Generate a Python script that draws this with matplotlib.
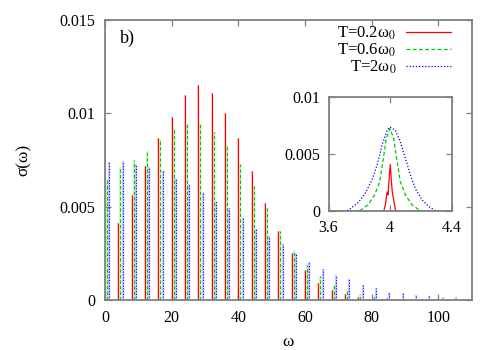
import matplotlib
matplotlib.use("Agg")
import matplotlib.pyplot as plt

plt.rcParams['font.family'] = ['Liberation Serif', 'DejaVu Serif']
plt.rcParams['mathtext.fontset'] = 'stix'
plt.rcParams['font.size'] = 11.5

# main panel: spike positions and heights
red_w = [4, 8, 12, 16, 20, 24, 28, 32, 36, 40, 44, 48, 52, 56, 60, 64, 68, 72, 76]
red_s = [0.0041, 0.0056, 0.0072, 0.0087, 0.0098, 0.0110, 0.0115, 0.0111, 0.0100,
         0.0087, 0.0069, 0.0052, 0.0037, 0.0025, 0.0016, 0.0009, 0.00054, 0.00032,
         0.00018]

green_w = [0.65, 4.65, 8.65, 12.65, 16.65, 20.65, 24.65, 28.65, 32.65, 36.65, 40.65,
           44.65, 48.65, 52.65, 56.65, 60.65, 64.65, 68.65, 72.65, 76.65, 80.65, 84.65]
green_s = [0.0064, 0.0071, 0.0075, 0.0080, 0.0086, 0.0092, 0.0094, 0.0094, 0.0090,
           0.0083, 0.0073, 0.0061, 0.0049, 0.0037, 0.0027, 0.00187, 0.00128, 0.0008,
           0.00054, 0.0003, 0.00018, 0.0001]

blue_w = [1.3, 5.3, 9.3, 13.3, 17.3, 21.3, 25.3, 29.3, 33.3, 37.3, 41.3, 45.3, 49.3,
          53.3, 57.3, 61.3, 65.3, 69.3, 73.3, 77.3, 81.3, 85.3, 89.3, 93.3, 97.3,
          101.3, 105.3]
blue_s = [0.0074, 0.00745, 0.0073, 0.0071, 0.0069, 0.00655, 0.0062, 0.0058, 0.0053,
          0.0049, 0.0044, 0.0038, 0.0034, 0.0030, 0.0025, 0.00205, 0.00164, 0.00134,
          0.0011, 0.0008, 0.00063, 0.00045, 0.00036, 0.00027, 0.00021, 0.00018,
          0.00014]

# inset: line shapes around omega = 4
in_red_w = [3.6, 3.959, 3.970, 3.981, 3.987, 3.996, 4.002, 4.009, 4.015, 4.024,
            4.035, 4.046, 4.4]
in_red_s = [0, 0, 0.0006, 0.0017, 0.00145, 0.0032, 0.0041, 0.0026, 0.0017, 0.0010,
            0.00015, 0, 0]

in_green_w = [3.6, 3.78, 3.813, 3.857, 3.9, 3.933, 3.954, 3.976, 4.0, 4.024, 4.046,
              4.067, 4.1, 4.143, 4.187, 4.22, 4.4]
in_green_s = [0, 0, 0.00015, 0.00058, 0.00145, 0.0026, 0.0044, 0.0064, 0.00725,
              0.0064, 0.0044, 0.0026, 0.00145, 0.00058, 0.00015, 0, 0]

in_blue_w = [3.6, 3.709, 3.741, 3.796, 3.839, 3.883, 3.916, 3.948, 3.981, 4.0, 4.035,
             4.067, 4.1, 4.133, 4.165, 4.209, 4.252, 4.296, 4.4]
in_blue_s = [0, 0, 0.00023, 0.00081, 0.0016, 0.00276, 0.00406, 0.0058, 0.0071,
             0.0074, 0.0071, 0.0061, 0.00464, 0.0032, 0.0020, 0.0010, 0.00043,
             0.00006, 0]

labels = ['T=0.2ω$_0$', 'T=0.6ω$_0$', 'T=2ω$_0$']
colors = ['#ff0000', '#00c800', '#0000ff']
styles = ['-', (0, (3, 2)), (0, (1, 1.5))]

spine_col = '#808080'

fig = plt.figure(figsize=(5, 3.5), dpi=100)
ax = fig.add_axes([0.21, 0.143, 0.733, 0.8])

series = [(red_w, red_s), (green_w, green_s), (blue_w, blue_s)]
for (w, s), c, ls in zip(series, colors, styles):
    ax.vlines(w, 0, s, colors=c, linewidth=1.6, alpha=0.2)
    ax.vlines(w, 0, s, colors=c, linewidth=0.8, linestyles=[ls])

ax.set_xlim(0, 110)
ax.set_ylim(0, 0.015)
ax.set_xticks([0, 20, 40, 60, 80, 100])
ax.set_yticks([0, 0.005, 0.01, 0.015])
ax.set_yticklabels(['0', '0.005', '0.01', '0.015'])
ax.tick_params(direction='in', length=4.5, width=0.9, color=spine_col,
               top=True, right=True, pad=7)
for sp in ax.spines.values():
    sp.set_color(spine_col)
    sp.set_linewidth(1.3)

ax.text(0.041, 0.918, 'b)', transform=ax.transAxes, fontsize=13)

# gnuplot-style key: text right-aligned, sample on the right
key_y = [0.956, 0.895, 0.837]
for lab, c, ls, yk in zip(labels, colors, styles, key_y):
    ax.text(0.795, yk - 0.02, lab, transform=ax.transAxes, ha='right',
            va='baseline', fontsize=12)
    ax.plot([0.822, 0.945], [yk, yk], transform=ax.transAxes, color=c,
            linestyle=ls, linewidth=0.9)

fig.text(0.576, 0.024, 'ω', ha='center', va='center', fontsize=12.5)
fig.text(0.048, 0.543, 'σ(ω)', ha='center', va='center', rotation=90, fontsize=12.5)

# inset
axi = fig.add_axes([0.657, 0.396, 0.246, 0.326])
inset = [(in_red_w, in_red_s), (in_green_w, in_green_s), (in_blue_w, in_blue_s)]
for (w, s), c, ls in zip(inset, colors, styles):
    axi.plot(w, s, color=c, linestyle=ls, linewidth=0.9)
axi.set_xlim(3.6, 4.4)
axi.set_ylim(0, 0.01)
axi.set_xticks([3.6, 4, 4.4])
axi.set_xticklabels(['3.6', '4', '4.4'])
axi.set_yticks([0, 0.005, 0.01])
axi.set_yticklabels(['0', '0.005', '0.01'])
axi.tick_params(direction='in', length=4, width=0.9, color=spine_col,
                top=True, right=True, pad=6)
for sp in axi.spines.values():
    sp.set_color(spine_col)
    sp.set_linewidth(1.3)

fig.savefig('out.png', dpi=100)
